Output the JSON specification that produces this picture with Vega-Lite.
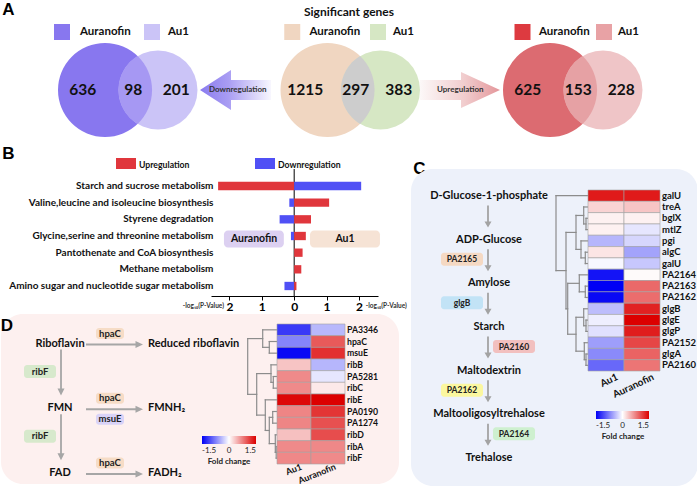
{
"$schema": "https://vega.github.io/schema/vega-lite/v6.json",
"padding": 0,
"background": "#ffffff",
"spacing": 0,
"bounds": "flush",
"resolve": {"scale": {"color": "independent"}, "legend": {"color": "independent"}},
"config": {
  "font": "Lato",
  "view": {"stroke": null},
  "text": {"font": "Lato", "fontWeight": "bold"},
  "axis": {"labelFont": "Lato", "titleFont": "Lato"},
  "legend": {"labelFont": "Lato", "titleFont": "Lato"}
},
"datasets": {
  "vennSets": [
    {"group": "Down", "set": "Auranofin"}, {"group": "Down", "set": "Au1"},
    {"group": "All", "set": "Auranofin"}, {"group": "All", "set": "Au1"},
    {"group": "Up", "set": "Auranofin"}, {"group": "Up", "set": "Au1"}
  ],
  "vennCounts": [
    {"group": "Down", "region": "Auranofin only", "count": 636},
    {"group": "Down", "region": "Both", "count": 98},
    {"group": "Down", "region": "Au1 only", "count": 201},
    {"group": "All", "region": "Auranofin only", "count": 1215},
    {"group": "All", "region": "Both", "count": 297},
    {"group": "All", "region": "Au1 only", "count": 383},
    {"group": "Up", "region": "Auranofin only", "count": 625},
    {"group": "Up", "region": "Both", "count": 153},
    {"group": "Up", "region": "Au1 only", "count": 228}
  ],
  "vennArrows": [
    {"group": "DownArrow", "label": "Downregulation"},
    {"group": "UpArrow", "label": "Upregulation"}
  ],
  "titleA": [{"group": "All", "label": "Significant genes"}],
  "regs": [{"regulation": "Upregulation"}, {"regulation": "Downregulation"}],
  "lettersA": [{"panel": "A"}],
  "letters": [{"panel": "B"}, {"panel": "C"}],
  "lettersD": [{"panel": "D"}],
  "pathways": [
    {"pathway": "Starch and sucrose metabolism", "side": "Auranofin", "regulation": "Upregulation", "value": -2.35},
    {"pathway": "Starch and sucrose metabolism", "side": "Au1", "regulation": "Downregulation", "value": 2.07},
    {"pathway": "Valine,leucine and isoleucine biosynthesis", "side": "Auranofin", "regulation": "Downregulation", "value": -0.15},
    {"pathway": "Valine,leucine and isoleucine biosynthesis", "side": "Au1", "regulation": "Upregulation", "value": 1.08},
    {"pathway": "Styrene degradation", "side": "Auranofin", "regulation": "Downregulation", "value": -0.45},
    {"pathway": "Styrene degradation", "side": "Au1", "regulation": "Upregulation", "value": 0.52},
    {"pathway": "Glycine,serine and threonine metabolism", "side": "Auranofin", "regulation": "Downregulation", "value": -0.1},
    {"pathway": "Glycine,serine and threonine metabolism", "side": "Au1", "regulation": "Upregulation", "value": 0.36},
    {"pathway": "Pantothenate and CoA biosynthesis", "side": "Au1", "regulation": "Upregulation", "value": 0.26},
    {"pathway": "Methane metabolism", "side": "Au1", "regulation": "Upregulation", "value": 0.22},
    {"pathway": "Amino sugar and nucleotide sugar metabolism", "side": "Auranofin", "regulation": "Downregulation", "value": -0.3},
    {"pathway": "Amino sugar and nucleotide sugar metabolism", "side": "Au1", "regulation": "Upregulation", "value": 0.07}
  ],
  "sides": [
    {"side": "Auranofin", "axisLabel": "-log₁₀(P-Value)"},
    {"side": "Au1", "axisLabel": "-log₁₀(P-Value)"}
  ],
  "cNodes": [
    {"step": 0, "label": "D-Glucose-1-phosphate"},
    {"step": 1, "label": "ADP-Glucose"},
    {"step": 2, "label": "Amylose"},
    {"step": 3, "label": "Starch"},
    {"step": 4, "label": "Maltodextrin"},
    {"step": 5, "label": "Maltooligosyltrehalose"},
    {"step": 6, "label": "Trehalose"}
  ],
  "cEnz": [
    {"enzyme": "PA2165", "step": 1, "col": "left"},
    {"enzyme": "glgB", "step": 2, "col": "left"},
    {"enzyme": "PA2160", "step": 3, "col": "right"},
    {"enzyme": "PA2162", "step": 4, "col": "left"},
    {"enzyme": "PA2164", "step": 5, "col": "right"}
  ],
  "heatC": [
    {"id": "galU-1", "gene": "galU", "condition": "Au1", "fc": 1.35}, {"id": "galU-1", "gene": "galU", "condition": "Auranofin", "fc": 1.35},
    {"id": "treA", "gene": "treA", "condition": "Au1", "fc": 0.26}, {"id": "treA", "gene": "treA", "condition": "Auranofin", "fc": 0.34},
    {"id": "bglX", "gene": "bglX", "condition": "Au1", "fc": 0.08}, {"id": "bglX", "gene": "bglX", "condition": "Auranofin", "fc": 0.08},
    {"id": "mtlZ", "gene": "mtlZ", "condition": "Au1", "fc": 0.08}, {"id": "mtlZ", "gene": "mtlZ", "condition": "Auranofin", "fc": -0.15},
    {"id": "pgi", "gene": "pgi", "condition": "Au1", "fc": -0.43}, {"id": "pgi", "gene": "pgi", "condition": "Auranofin", "fc": -0.24},
    {"id": "algC", "gene": "algC", "condition": "Au1", "fc": 0.15}, {"id": "algC", "gene": "algC", "condition": "Auranofin", "fc": -0.54},
    {"id": "galU-2", "gene": "galU", "condition": "Au1", "fc": -0.05}, {"id": "galU-2", "gene": "galU", "condition": "Auranofin", "fc": -0.33},
    {"id": "PA2164", "gene": "PA2164", "condition": "Au1", "fc": -1.38}, {"id": "PA2164", "gene": "PA2164", "condition": "Auranofin", "fc": 0.03},
    {"id": "PA2163", "gene": "PA2163", "condition": "Au1", "fc": -1.5}, {"id": "PA2163", "gene": "PA2163", "condition": "Auranofin", "fc": 0.88},
    {"id": "PA2162", "gene": "PA2162", "condition": "Au1", "fc": -1.45}, {"id": "PA2162", "gene": "PA2162", "condition": "Auranofin", "fc": 0.86},
    {"id": "glgB", "gene": "glgB", "condition": "Au1", "fc": -0.39}, {"id": "glgB", "gene": "glgB", "condition": "Auranofin", "fc": 1.3},
    {"id": "glgE", "gene": "glgE", "condition": "Au1", "fc": -0.1}, {"id": "glgE", "gene": "glgE", "condition": "Auranofin", "fc": 1.5},
    {"id": "glgP", "gene": "glgP", "condition": "Au1", "fc": -0.18}, {"id": "glgP", "gene": "glgP", "condition": "Auranofin", "fc": 1.33},
    {"id": "PA2152", "gene": "PA2152", "condition": "Au1", "fc": -0.57}, {"id": "PA2152", "gene": "PA2152", "condition": "Auranofin", "fc": 1.09},
    {"id": "glgA", "gene": "glgA", "condition": "Au1", "fc": -0.69}, {"id": "glgA", "gene": "glgA", "condition": "Auranofin", "fc": 0.92},
    {"id": "PA2160", "gene": "PA2160", "condition": "Au1", "fc": -0.89}, {"id": "PA2160", "gene": "PA2160", "condition": "Auranofin", "fc": 0.81}
  ],
  "dendroC": [
    {"h": 31.7, "ya": 0.5, "ha": 0, "yb": 7.125, "hb": 21.7},
    {"h": 21.7, "ya": 3.75, "ha": 11.7, "yb": 10.5, "hb": 20},
    {"h": 11.7, "ya": 2.25, "ha": 4, "yb": 5.25, "hb": 6.7},
    {"h": 4, "ya": 1.5, "ha": 0, "yb": 3, "hb": 1.7},
    {"h": 1.7, "ya": 2.5, "ha": 0, "yb": 3.5, "hb": 0},
    {"h": 6.7, "ya": 4.5, "ha": 0, "yb": 6, "hb": 2.4},
    {"h": 2.4, "ya": 5.5, "ha": 0, "yb": 6.5, "hb": 0},
    {"h": 20, "ya": 8.25, "ha": 8.4, "yb": 12.75, "hb": 11.7},
    {"h": 8.4, "ya": 7.5, "ha": 0, "yb": 9, "hb": 2.4},
    {"h": 2.4, "ya": 8.5, "ha": 0, "yb": 9.5, "hb": 0},
    {"h": 11.7, "ya": 11.25, "ha": 4, "yb": 14.25, "hb": 3.4},
    {"h": 4, "ya": 10.5, "ha": 0, "yb": 12, "hb": 1.7},
    {"h": 1.7, "ya": 11.5, "ha": 0, "yb": 12.5, "hb": 0},
    {"h": 3.4, "ya": 13.5, "ha": 0, "yb": 15, "hb": 1.7},
    {"h": 1.7, "ya": 14.5, "ha": 0, "yb": 15.5, "hb": 0}
  ],
  "dNodes": [
    {"label": "Riboflavin", "level": 0, "col": "compound"},
    {"label": "FMN", "level": 1, "col": "compound"},
    {"label": "FAD", "level": 2, "col": "compound"},
    {"label": "Reduced riboflavin", "level": 0, "col": "product"},
    {"label": "FMNH₂", "level": 1, "col": "product"},
    {"label": "FADH₂", "level": 2, "col": "product"}
  ],
  "dEnz": [
    {"enzyme": "hpaC", "level": 0, "col": "enzyme", "pos": "above"},
    {"enzyme": "hpaC", "level": 1, "col": "enzyme", "pos": "above"},
    {"enzyme": "msuE", "level": 1, "col": "enzyme", "pos": "below"},
    {"enzyme": "hpaC", "level": 2, "col": "enzyme", "pos": "above"},
    {"enzyme": "ribF", "level": 0, "col": "cofactor", "pos": "between"},
    {"enzyme": "ribF", "level": 1, "col": "cofactor", "pos": "between"}
  ],
  "heatD": [
    {"id": "PA3346", "gene": "PA3346", "condition": "Au1", "fc": -1.16}, {"id": "PA3346", "gene": "PA3346", "condition": "Auranofin", "fc": -0.42},
    {"id": "hpaC", "gene": "hpaC", "condition": "Au1", "fc": -0.72}, {"id": "hpaC", "gene": "hpaC", "condition": "Auranofin", "fc": 0.97},
    {"id": "msuE", "gene": "msuE", "condition": "Au1", "fc": -1.45}, {"id": "msuE", "gene": "msuE", "condition": "Auranofin", "fc": 1.22},
    {"id": "ribB", "gene": "ribB", "condition": "Au1", "fc": 0.35}, {"id": "ribB", "gene": "ribB", "condition": "Auranofin", "fc": -0.43},
    {"id": "PA5281", "gene": "PA5281", "condition": "Au1", "fc": 0.69}, {"id": "PA5281", "gene": "PA5281", "condition": "Auranofin", "fc": -0.15},
    {"id": "ribC", "gene": "ribC", "condition": "Au1", "fc": 0.69}, {"id": "ribC", "gene": "ribC", "condition": "Auranofin", "fc": 0.13},
    {"id": "ribE", "gene": "ribE", "condition": "Au1", "fc": 1.46}, {"id": "ribE", "gene": "ribE", "condition": "Auranofin", "fc": 1.5},
    {"id": "PA0190", "gene": "PA0190", "condition": "Au1", "fc": 0.72}, {"id": "PA0190", "gene": "PA0190", "condition": "Auranofin", "fc": 1.19},
    {"id": "PA1274", "gene": "PA1274", "condition": "Au1", "fc": 0.72}, {"id": "PA1274", "gene": "PA1274", "condition": "Auranofin", "fc": 1.03},
    {"id": "ribD", "gene": "ribD", "condition": "Au1", "fc": 0.37}, {"id": "ribD", "gene": "ribD", "condition": "Auranofin", "fc": 1.05},
    {"id": "ribA", "gene": "ribA", "condition": "Au1", "fc": 0.69}, {"id": "ribA", "gene": "ribA", "condition": "Auranofin", "fc": 0.7},
    {"id": "ribF", "gene": "ribF", "condition": "Au1", "fc": 0.7}, {"id": "ribF", "gene": "ribF", "condition": "Auranofin", "fc": 0.69}
  ],
  "dendroD": [
    {"h": 29.3, "ya": 1.25, "ha": 14.3, "yb": 6.03, "hb": 20.3},
    {"h": 14.3, "ya": 0.5, "ha": 0, "yb": 2, "hb": 7.7},
    {"h": 7.7, "ya": 1.5, "ha": 0, "yb": 2.5, "hb": 0},
    {"h": 20.3, "ya": 4.25, "ha": 6, "yb": 7.81, "hb": 11.7},
    {"h": 6, "ya": 3.5, "ha": 0, "yb": 5, "hb": 3.7},
    {"h": 3.7, "ya": 4.5, "ha": 0, "yb": 5.5, "hb": 0},
    {"h": 11.7, "ya": 6.5, "ha": 0, "yb": 9.125, "hb": 7.7},
    {"h": 7.7, "ya": 8, "ha": 4.3, "yb": 10.25, "hb": 1.7},
    {"h": 4.3, "ya": 7.5, "ha": 0, "yb": 8.5, "hb": 0},
    {"h": 1.7, "ya": 9.5, "ha": 0, "yb": 11, "hb": 0.8},
    {"h": 0.8, "ya": 10.5, "ha": 0, "yb": 11.5, "hb": 0}
  ]
},
"vconcat": [
  {
    "width": 697, "height": 168,
    "resolve": {"scale": {"x": "independent", "y": "independent", "color": "independent"}},
    "layer": [
      {"data": {"name": "vennArrows"}, "transform": [{"filter": "datum.group == 'DownArrow'"}],
       "mark": {"type": "point", "shape": "M-42.75,0L-11.75,-20L-11.75,-10L28.25,-10L28.25,10L-11.75,10L-11.75,20Z", "size": 4, "filled": true, "opacity": 1, "strokeWidth": 0,
         "fill": {"gradient": "linear", "x1": 0, "y1": 0, "x2": 1, "y2": 0, "stops": [{"offset": 0, "color": "#8a7bef"}, {"offset": 0.4, "color": "#a99df3"}, {"offset": 1, "color": "#f8f7fe"}]}},
       "encoding": {
         "x": {"field": "group", "type": "nominal", "scale": {"type": "point", "domain": ["Down", "DownArrow", "All", "UpArrow", "Up"], "range": [130.5, 575.5], "padding": 0}, "axis": null},
         "y": {"datum": "venn", "type": "nominal", "scale": {"type": "point", "domain": ["legend", "venn"], "range": [31, 89], "padding": 0}, "axis": null}}},
      {"data": {"name": "vennArrows"}, "transform": [{"filter": "datum.group == 'UpArrow'"}],
       "mark": {"type": "point", "shape": "M-45.25,-10L-4.25,-10L-4.25,-18L34.75,0L-4.25,18L-4.25,10L-45.25,10Z", "size": 4, "filled": true, "opacity": 1, "strokeWidth": 0,
         "fill": {"gradient": "linear", "x1": 0, "y1": 0, "x2": 1, "y2": 0, "stops": [{"offset": 0, "color": "#fcf8f8"}, {"offset": 0.55, "color": "#f1cdce"}, {"offset": 1, "color": "#e4979b"}]}},
       "encoding": {
         "x": {"field": "group", "type": "nominal", "scale": {"type": "point", "domain": ["Down", "DownArrow", "All", "UpArrow", "Up"], "range": [130.5, 575.5], "padding": 0}, "axis": null},
         "y": {"datum": "venn", "type": "nominal", "scale": {"type": "point", "domain": ["legend", "venn"], "range": [31, 89], "padding": 0}, "axis": null}}},
      {"data": {"name": "vennArrows"},
       "mark": {"type": "text", "fontSize": 8, "color": "#333333", "dx": -5},
       "encoding": {
         "x": {"field": "group", "type": "nominal", "scale": {"type": "point", "domain": ["Down", "DownArrow", "All", "UpArrow", "Up"], "range": [130.5, 575.5], "padding": 0}, "axis": null},
         "y": {"datum": "venn", "type": "nominal", "scale": {"type": "point", "domain": ["legend", "venn"], "range": [31, 89], "padding": 0}, "axis": null},
         "text": {"field": "label"}}},
      {"data": {"name": "vennSets"}, "transform": [{"filter": "datum.set == 'Auranofin'"}],
       "mark": {"type": "point", "shape": "circle", "size": 8836, "filled": true, "opacity": 1, "strokeWidth": 0, "xOffset": -26.5},
       "encoding": {
         "x": {"field": "group", "type": "nominal", "scale": {"type": "point", "domain": ["Down", "DownArrow", "All", "UpArrow", "Up"], "range": [130.5, 575.5], "padding": 0}, "axis": null},
         "y": {"datum": "venn", "type": "nominal", "scale": {"type": "point", "domain": ["legend", "venn"], "range": [31, 89], "padding": 0}, "axis": null},
         "color": {"field": "group", "type": "nominal", "scale": {"domain": ["Down", "All", "Up"], "range": ["#8877ef", "#f0d6c1", "#dc6b71"]}, "legend": null}}},
      {"data": {"name": "vennSets"}, "transform": [{"filter": "datum.set == 'Au1'"}],
       "mark": {"type": "point", "shape": "circle", "size": 6241, "filled": true, "opacity": 1, "strokeWidth": 0, "xOffset": 26.5},
       "encoding": {
         "x": {"field": "group", "type": "nominal", "scale": {"type": "point", "domain": ["Down", "DownArrow", "All", "UpArrow", "Up"], "range": [130.5, 575.5], "padding": 0}, "axis": null},
         "y": {"datum": "venn", "type": "nominal", "scale": {"type": "point", "domain": ["legend", "venn"], "range": [31, 89], "padding": 0}, "axis": null},
         "color": {"field": "group", "type": "nominal", "scale": {"domain": ["Down", "All", "Up"], "range": ["#cbc4f7", "#d6e7c4", "#efc5c7"]}, "legend": null}}},
      {"data": {"name": "vennSets"}, "transform": [{"filter": "datum.set == 'Auranofin'"}],
       "mark": {"type": "point", "shape": "M0,-33.9A39.5,39.5,0,0,0,0,33.9A47,47,0,0,0,0,-33.9Z", "size": 4, "filled": true, "opacity": 1, "strokeWidth": 0, "xOffset": 6.1},
       "encoding": {
         "x": {"field": "group", "type": "nominal", "scale": {"type": "point", "domain": ["Down", "DownArrow", "All", "UpArrow", "Up"], "range": [130.5, 575.5], "padding": 0}, "axis": null},
         "y": {"datum": "venn", "type": "nominal", "scale": {"type": "point", "domain": ["legend", "venn"], "range": [31, 89], "padding": 0}, "axis": null},
         "color": {"field": "group", "type": "nominal", "scale": {"domain": ["Down", "All", "Up"], "range": ["#a698f3", "#cdcdcd", "#e6a1a4"]}, "legend": null}}},
      {"data": {"name": "vennCounts"}, "transform": [{"filter": "datum.region == 'Auranofin only'"}],
       "mark": {"type": "text", "fontSize": 15.5, "color": "#111111", "dx": -48.7},
       "encoding": {
         "x": {"field": "group", "type": "nominal", "scale": {"type": "point", "domain": ["Down", "DownArrow", "All", "UpArrow", "Up"], "range": [130.5, 575.5], "padding": 0}, "axis": null},
         "y": {"datum": "venn", "type": "nominal", "scale": {"type": "point", "domain": ["legend", "venn"], "range": [31, 89], "padding": 0}, "axis": null},
         "text": {"field": "count"}}},
      {"data": {"name": "vennCounts"}, "transform": [{"filter": "datum.region == 'Both'"}],
       "mark": {"type": "text", "fontSize": 15.5, "color": "#111111", "dx": 1.7},
       "encoding": {
         "x": {"field": "group", "type": "nominal", "scale": {"type": "point", "domain": ["Down", "DownArrow", "All", "UpArrow", "Up"], "range": [130.5, 575.5], "padding": 0}, "axis": null},
         "y": {"datum": "venn", "type": "nominal", "scale": {"type": "point", "domain": ["legend", "venn"], "range": [31, 89], "padding": 0}, "axis": null},
         "text": {"field": "count"}}},
      {"data": {"name": "vennCounts"}, "transform": [{"filter": "datum.region == 'Au1 only'"}],
       "mark": {"type": "text", "fontSize": 15.5, "color": "#111111", "dx": 44.7},
       "encoding": {
         "x": {"field": "group", "type": "nominal", "scale": {"type": "point", "domain": ["Down", "DownArrow", "All", "UpArrow", "Up"], "range": [130.5, 575.5], "padding": 0}, "axis": null},
         "y": {"datum": "venn", "type": "nominal", "scale": {"type": "point", "domain": ["legend", "venn"], "range": [31, 89], "padding": 0}, "axis": null},
         "text": {"field": "count"}}},
      {"data": {"name": "vennSets"}, "transform": [{"filter": "datum.set == 'Auranofin'"}],
       "mark": {"type": "point", "shape": "square", "size": 256, "filled": true, "opacity": 1, "strokeWidth": 0},
       "encoding": {
         "x": {"field": "group", "type": "nominal", "scale": {"type": "point", "domain": ["Down", "All", "Up"], "range": [61, 521.5], "padding": 0}, "axis": null},
         "y": {"datum": "legend", "type": "nominal", "scale": {"type": "point", "domain": ["legend", "venn"], "range": [31, 89], "padding": 0}, "axis": null},
         "color": {"field": "group", "type": "nominal", "scale": {"domain": ["Down", "All", "Up"], "range": ["#8877ef", "#f0d6c1", "#dd3a40"]}, "legend": null}}},
      {"data": {"name": "vennSets"}, "transform": [{"filter": "datum.set == 'Au1'"}],
       "mark": {"type": "point", "shape": "square", "size": 256, "filled": true, "opacity": 1, "strokeWidth": 0},
       "encoding": {
         "x": {"field": "group", "type": "nominal", "scale": {"type": "point", "domain": ["Down", "All", "Up"], "range": [151, 603], "padding": 0}, "axis": null},
         "y": {"datum": "legend", "type": "nominal", "scale": {"type": "point", "domain": ["legend", "venn"], "range": [31, 89], "padding": 0}, "axis": null},
         "color": {"field": "group", "type": "nominal", "scale": {"domain": ["Down", "All", "Up"], "range": ["#cbc4f7", "#d6e7c4", "#e8a2a5"]}, "legend": null}}},
      {"data": {"name": "vennSets"}, "transform": [{"filter": "datum.set == 'Auranofin'"}],
       "mark": {"type": "text", "fontSize": 11.5, "align": "left", "color": "#111111"},
       "encoding": {
         "x": {"field": "group", "type": "nominal", "scale": {"type": "point", "domain": ["Down", "All", "Up"], "range": [79, 538], "padding": 0}, "axis": null},
         "y": {"datum": "legend", "type": "nominal", "scale": {"type": "point", "domain": ["legend", "venn"], "range": [31, 89], "padding": 0}, "axis": null},
         "text": {"field": "set"}}},
      {"data": {"name": "vennSets"}, "transform": [{"filter": "datum.set == 'Au1'"}],
       "mark": {"type": "text", "fontSize": 11.5, "align": "left", "color": "#111111"},
       "encoding": {
         "x": {"field": "group", "type": "nominal", "scale": {"type": "point", "domain": ["Down", "All", "Up"], "range": [167, 617], "padding": 0}, "axis": null},
         "y": {"datum": "legend", "type": "nominal", "scale": {"type": "point", "domain": ["legend", "venn"], "range": [31, 89], "padding": 0}, "axis": null},
         "text": {"field": "set"}}},
      {"data": {"name": "titleA"},
       "mark": {"type": "text", "fontSize": 12, "color": "#111111", "dx": -5, "dy": -20},
       "encoding": {
         "x": {"field": "group", "type": "nominal", "scale": {"type": "point", "domain": ["Down", "DownArrow", "All", "UpArrow", "Up"], "range": [130.5, 575.5], "padding": 0}, "axis": null},
         "y": {"datum": "legend", "type": "nominal", "scale": {"type": "point", "domain": ["legend", "venn"], "range": [31, 89], "padding": 0}, "axis": null},
         "text": {"field": "label"}}},
      {"data": {"name": "regs"},
       "mark": {"type": "point", "shape": "M-10,-5.5H10V5.5H-10Z", "size": 4, "filled": true, "opacity": 1, "strokeWidth": 0},
       "encoding": {
         "x": {"field": "regulation", "type": "nominal", "scale": {"type": "point", "domain": ["Upregulation", "Downregulation"], "range": [125, 264], "padding": 0}, "axis": null},
         "y": {"field": "regulation", "type": "nominal", "scale": {"type": "point", "domain": ["Upregulation", "Downregulation"], "range": [162.5, 162.5], "padding": 0}, "axis": null},
         "color": {"field": "regulation", "type": "nominal", "scale": {"domain": ["Upregulation", "Downregulation"], "range": ["#e0363c", "#5050f5"]}, "legend": null}}},
      {"data": {"name": "regs"},
       "mark": {"type": "text", "fontSize": 8.7, "align": "left", "color": "#111111", "dy": 1.5},
       "encoding": {
         "x": {"field": "regulation", "type": "nominal", "scale": {"type": "point", "domain": ["Upregulation", "Downregulation"], "range": [138, 277], "padding": 0}, "axis": null},
         "y": {"field": "regulation", "type": "nominal", "scale": {"type": "point", "domain": ["Upregulation", "Downregulation"], "range": [162.5, 162.5], "padding": 0}, "axis": null},
         "text": {"field": "regulation"}}},
      {"data": {"name": "lettersA"},
       "mark": {"type": "text", "font": "Liberation Sans", "fontSize": 17, "color": "#000000"},
       "encoding": {
         "x": {"field": "panel", "type": "nominal", "scale": {"type": "point", "domain": ["A"], "range": [7.5, 7.5], "padding": 0}, "axis": null},
         "y": {"field": "panel", "type": "nominal", "scale": {"type": "point", "domain": ["A"], "range": [8.5, 8.5], "padding": 0}, "axis": null},
         "text": {"field": "panel"}}},
      {"data": {"name": "letters"},
       "mark": {"type": "text", "font": "Liberation Sans", "fontSize": 17, "color": "#000000"},
       "encoding": {
         "x": {"field": "panel", "type": "nominal", "scale": {"type": "point", "domain": ["B", "C"], "range": [7.5, 418.5], "padding": 0}, "axis": null},
         "y": {"field": "panel", "type": "nominal", "scale": {"type": "point", "domain": ["B", "C"], "range": [152.5, 167.5], "padding": 0}, "axis": null},
         "text": {"field": "panel"}}}
    ]
  },
  {
    "hconcat": [
      {
        "vconcat": [
          {
            "width": 410, "height": 127,
            "layer": [
              {"data": {"name": "sides"}, "transform": [{"filter": "datum.side == 'Auranofin'"}],
               "mark": {"type": "bar", "height": 17, "cornerRadius": 4, "color": "#dcd0f1", "yOffset": 3},
               "encoding": {"x": {"datum": -2.17, "type": "quantitative"}, "x2": {"datum": -0.32}, "y": {"datum": "Glycine,serine and threonine metabolism", "type": "nominal"}}},
              {"data": {"name": "sides"}, "transform": [{"filter": "datum.side == 'Au1'"}],
               "mark": {"type": "bar", "height": 17, "cornerRadius": 4, "color": "#f6e3d5", "yOffset": 3},
               "encoding": {"x": {"datum": 0.49, "type": "quantitative"}, "x2": {"datum": 2.65}, "y": {"datum": "Glycine,serine and threonine metabolism", "type": "nominal"}}},
              {"data": {"name": "sides"}, "transform": [{"filter": "datum.side == 'Auranofin'"}],
               "mark": {"type": "text", "fontSize": 10.5, "color": "#111111", "yOffset": 3},
               "encoding": {"x": {"datum": -1.24, "type": "quantitative"}, "y": {"datum": "Glycine,serine and threonine metabolism", "type": "nominal"}, "text": {"field": "side"}}},
              {"data": {"name": "sides"}, "transform": [{"filter": "datum.side == 'Au1'"}],
               "mark": {"type": "text", "fontSize": 10.5, "color": "#111111", "yOffset": 3},
               "encoding": {"x": {"datum": 1.57, "type": "quantitative"}, "y": {"datum": "Glycine,serine and threonine metabolism", "type": "nominal"}, "text": {"field": "side"}}},
              {"data": {"name": "sides"}, "transform": [{"filter": "datum.side == 'Auranofin'"}],
               "mark": {"type": "rule", "color": "#000000", "strokeWidth": 1},
               "encoding": {"x": {"datum": 0, "type": "quantitative"}}},
              {"data": {"name": "pathways"},
               "mark": {"type": "bar"},
               "encoding": {
                 "x": {"field": "value", "type": "quantitative", "stack": null,
                   "scale": {"domain": [-2.57, 2.59], "range": [210, 377], "nice": false, "zero": false},
                   "axis": {"values": [-2, -1, 0, 1, 2], "labelExpr": "abs(datum.value)", "title": null, "grid": false, "domainColor": "#000000", "tickColor": "#000000", "tickSize": 4, "labelFontSize": 12, "labelFontWeight": "bold", "labelColor": "#000000", "labelPadding": 1, "labelFlush": false}},
                 "y": {"field": "pathway", "type": "nominal",
                   "scale": {"type": "band", "domain": ["Starch and sucrose metabolism", "Valine,leucine and isoleucine biosynthesis", "Styrene degradation", "Glycine,serine and threonine metabolism", "Pantothenate and CoA biosynthesis", "Methane metabolism", "Amino sugar and nucleotide sugar metabolism"], "range": [8.67, 125.33], "paddingInner": 0.5, "paddingOuter": 0.25},
                   "axis": {"orient": "left", "offset": -212, "domain": false, "ticks": false, "labelPadding": 0, "title": null, "labelFontSize": 10, "labelFontWeight": "bold", "labelColor": "#111111", "labelLimit": 300}},
                 "color": {"field": "regulation", "type": "nominal",
                   "scale": {"domain": ["Upregulation", "Downregulation"], "range": ["#e0363c", "#5050f5"]},
                   "legend": null}}},
              {"data": {"name": "sides"}, "transform": [{"filter": "datum.side == 'Auranofin'"}],
               "mark": {"type": "text", "align": "right", "y": "height", "dy": 10, "fontSize": 6.5, "color": "#333333"},
               "encoding": {"x": {"datum": -2.17, "type": "quantitative"}, "text": {"field": "axisLabel"}}},
              {"data": {"name": "sides"}, "transform": [{"filter": "datum.side == 'Au1'"}],
               "mark": {"type": "text", "align": "left", "y": "height", "dy": 10, "fontSize": 6.5, "color": "#333333"},
               "encoding": {"x": {"datum": 2.21, "type": "quantitative"}, "text": {"field": "axisLabel"}}}
            ]
          },
          {
            "width": 398, "height": 170,
            "view": {"fill": "#fdf0ef", "cornerRadius": 22, "stroke": null},
            "resolve": {"scale": {"x": "independent", "y": "independent", "color": "independent"}, "legend": {"color": "independent"}},
            "layer": [
              {
                "layer": [
                  {"data": {"name": "dNodes"}, "transform": [{"filter": "datum.col == 'compound' && datum.level < 2"}],
                   "mark": {"type": "point", "shape": "M-0.9,-23H0.9V16H3.5L0,23L-3.5,16H-0.9Z", "size": 4, "filled": true, "opacity": 1, "strokeWidth": 0, "color": "#a6a6a6", "xOffset": -15, "yOffset": 29},
                   "encoding": {
                     "x": {"field": "col", "type": "nominal", "scale": {"type": "point", "domain": ["cofactor", "compound", "enzyme", "product"], "range": [39, 147], "padding": 0}, "axis": null},
                     "y": {"field": "level", "type": "quantitative", "scale": {"domain": [0, 2], "range": [29.5, 159], "nice": false, "zero": false}, "axis": null}}},
                  {"data": {"name": "dNodes"}, "transform": [{"filter": "datum.col == 'compound'"}],
                   "mark": {"type": "point", "shape": "M-28.5,-0.9H21V-3.5L28.5,0L21,3.5V0.9H-28.5Z", "size": 4, "filled": true, "opacity": 1, "strokeWidth": 0, "color": "#a6a6a6", "xOffset": 2.5, "yOffset": 1},
                   "encoding": {
                     "x": {"datum": "enzyme", "type": "nominal"},
                     "y": {"field": "level", "type": "quantitative"}}},
                  {"data": {"name": "dNodes"}, "transform": [{"filter": "datum.col == 'compound'"}],
                   "mark": {"type": "text", "fontSize": 11, "color": "#111111", "dx": -16},
                   "encoding": {"x": {"field": "col", "type": "nominal"}, "y": {"field": "level", "type": "quantitative"}, "text": {"field": "label"}}},
                  {"data": {"name": "dNodes"}, "transform": [{"filter": "datum.col == 'product'"}],
                   "mark": {"type": "text", "fontSize": 11, "color": "#111111", "align": "left"},
                   "encoding": {"x": {"field": "col", "type": "nominal"}, "y": {"field": "level", "type": "quantitative"}, "text": {"field": "label"}}},
                  {"data": {"name": "dEnz"}, "transform": [{"filter": "datum.pos == 'above'"}],
                   "mark": {"type": "point", "shape": "M-11,-5.5H11A3,3,0,0,1,14,-2.5V2.5A3,3,0,0,1,11,5.5H-11A3,3,0,0,1,-14,2.5V-2.5A3,3,0,0,1,-11,-5.5Z", "size": 4, "filled": true, "opacity": 1, "strokeWidth": 0, "xOffset": -2, "yOffset": -10},
                   "encoding": {"x": {"field": "col", "type": "nominal"}, "y": {"field": "level", "type": "quantitative"},
                     "color": {"field": "enzyme", "type": "nominal", "scale": {"domain": ["hpaC", "msuE", "ribF"], "range": ["#f6dcc6", "#d9d3f8", "#d7e9cc"]}, "legend": null}}},
                  {"data": {"name": "dEnz"}, "transform": [{"filter": "datum.pos == 'below'"}],
                   "mark": {"type": "point", "shape": "M-11,-5.5H11A3,3,0,0,1,14,-2.5V2.5A3,3,0,0,1,11,5.5H-11A3,3,0,0,1,-14,2.5V-2.5A3,3,0,0,1,-11,-5.5Z", "size": 4, "filled": true, "opacity": 1, "strokeWidth": 0, "xOffset": -2, "yOffset": 11},
                   "encoding": {"x": {"field": "col", "type": "nominal"}, "y": {"field": "level", "type": "quantitative"},
                     "color": {"field": "enzyme", "type": "nominal", "legend": null}}},
                  {"data": {"name": "dEnz"}, "transform": [{"filter": "datum.pos == 'between'"}],
                   "mark": {"type": "point", "shape": "M-13,-6.5H13A3,3,0,0,1,16,-3.5V3.5A3,3,0,0,1,13,6.5H-13A3,3,0,0,1,-16,3.5V-3.5A3,3,0,0,1,-13,-6.5Z", "size": 4, "filled": true, "opacity": 1, "strokeWidth": 0, "yOffset": 28},
                   "encoding": {"x": {"field": "col", "type": "nominal"}, "y": {"field": "level", "type": "quantitative"},
                     "color": {"field": "enzyme", "type": "nominal", "legend": null}}},
                  {"data": {"name": "dEnz"}, "transform": [{"filter": "datum.pos == 'above'"}],
                   "mark": {"type": "text", "fontSize": 9.5, "color": "#222222", "xOffset": -2, "yOffset": -10},
                   "encoding": {"x": {"field": "col", "type": "nominal"}, "y": {"field": "level", "type": "quantitative"}, "text": {"field": "enzyme"}}},
                  {"data": {"name": "dEnz"}, "transform": [{"filter": "datum.pos == 'below'"}],
                   "mark": {"type": "text", "fontSize": 9.5, "color": "#222222", "xOffset": -2, "yOffset": 11},
                   "encoding": {"x": {"field": "col", "type": "nominal"}, "y": {"field": "level", "type": "quantitative"}, "text": {"field": "enzyme"}}},
                  {"data": {"name": "dEnz"}, "transform": [{"filter": "datum.pos == 'between'"}],
                   "mark": {"type": "text", "fontSize": 9.5, "color": "#222222", "yOffset": 28},
                   "encoding": {"x": {"field": "col", "type": "nominal"}, "y": {"field": "level", "type": "quantitative"}, "text": {"field": "enzyme"}}},
                  {"data": {"name": "lettersD"},
                   "mark": {"type": "text", "font": "Liberation Sans", "fontSize": 17, "color": "#000000", "dx": -33, "dy": -18},
                   "encoding": {"x": {"datum": "cofactor", "type": "nominal"}, "y": {"datum": 0, "type": "quantitative"}, "text": {"field": "panel"}}}
                ]
              },
              {
                "data": {"name": "dendroD"},
                "layer": [
                  {"mark": {"type": "rule", "color": "#8c8c8c", "strokeWidth": 1.2, "strokeCap": "square"},
                   "encoding": {
                     "x": {"field": "h", "type": "quantitative", "scale": {"domain": [0, 29.3], "range": [276, 246.7], "nice": false, "zero": false}, "axis": null},
                     "y": {"field": "ya", "type": "quantitative", "scale": {"domain": [0, 12], "range": [10, 150], "nice": false, "zero": false}, "axis": null},
                     "y2": {"field": "yb"}}},
                  {"mark": {"type": "rule", "color": "#8c8c8c", "strokeWidth": 1.2, "strokeCap": "square"},
                   "encoding": {"x": {"field": "ha", "type": "quantitative"}, "x2": {"field": "h"}, "y": {"field": "ya", "type": "quantitative"}}},
                  {"mark": {"type": "rule", "color": "#8c8c8c", "strokeWidth": 1.2, "strokeCap": "square"},
                   "encoding": {"x": {"field": "hb", "type": "quantitative"}, "x2": {"field": "h"}, "y": {"field": "yb", "type": "quantitative"}}}
                ]
              },
              {
                "data": {"name": "heatD"},
                "layer": [
                  {"mark": {"type": "rect", "stroke": "#a3a3a3", "strokeWidth": 0.6},
                   "encoding": {
                     "x": {"field": "condition", "type": "nominal", "scale": {"type": "band", "domain": ["Au1", "Auranofin"], "range": [276, 344], "paddingInner": 0, "paddingOuter": 0}, "axis": null},
                     "y": {"field": "id", "type": "nominal", "scale": {"type": "band", "domain": ["PA3346", "hpaC", "msuE", "ribB", "PA5281", "ribC", "ribE", "PA0190", "PA1274", "ribD", "ribA", "ribF"], "range": [10, 150], "paddingInner": 0, "paddingOuter": 0}, "axis": null},
                     "color": {"field": "fc", "type": "quantitative",
                       "scale": {"domain": [-1.5, 0, 1.5], "range": ["#0000f5", "#ffffff", "#dc0000"], "clamp": true, "interpolate": "rgb"},
                       "legend": {"orient": "none", "legendX": 201, "legendY": 122, "direction": "horizontal", "gradientLength": 54, "gradientThickness": 8, "title": "Fold change", "titleOrient": "bottom", "titleAnchor": "middle", "titleFontSize": 8, "titleFontWeight": "bold", "titleColor": "#222222", "titlePadding": 3, "values": [-1.5, 0, 1.5], "labelFontSize": 8, "labelColor": "#222222", "labelOffset": 3, "labelAlign": "center", "labelOverlap": false, "labelExpr": "datum.value < 0 ? '-' + format(-datum.value, '.1f') : (datum.value == 0 ? '0' : format(datum.value, '.1f'))", "gradientStrokeWidth": 0, "padding": 0}}}},
                  {"transform": [{"filter": "datum.condition == 'Auranofin'"}],
                   "mark": {"type": "text", "align": "left", "dx": 2, "fontSize": 8.7, "color": "#111111"},
                   "encoding": {"x": {"field": "condition", "type": "nominal", "bandPosition": 1}, "y": {"field": "id", "type": "nominal"}, "text": {"field": "gene"}}},
                  {"transform": [{"filter": "datum.id == 'ribF'"}],
                   "mark": {"type": "text", "align": "right", "baseline": "top", "angle": 338, "dx": 6, "dy": 1, "fontSize": 9, "color": "#111111"},
                   "encoding": {"x": {"field": "condition", "type": "nominal"}, "y": {"field": "id", "type": "nominal", "bandPosition": 1}, "text": {"field": "condition"}}}
                ]
              }
            ]
          }
        ],
        "spacing": 18,
        "bounds": "flush",
        "resolve": {"scale": {"color": "independent"}, "legend": {"color": "independent"}}
      },
      {
        "width": 287, "height": 317,
        "view": {"fill": "#edf1fa", "cornerRadius": 22, "stroke": null},
        "resolve": {"scale": {"x": "independent", "y": "independent", "color": "independent"}, "legend": {"color": "independent"}},
        "layer": [
          {
            "layer": [
              {"data": {"name": "cNodes"}, "transform": [{"filter": "datum.step < 6"}],
               "mark": {"type": "point", "shape": "M-0.9,-11H0.9V5H3.5L0,11L-3.5,5H-0.9Z", "size": 4, "filled": true, "opacity": 1, "strokeWidth": 0, "color": "#a3a3a3", "yOffset": 20.5},
               "encoding": {
                 "x": {"datum": "center", "type": "nominal", "scale": {"type": "point", "domain": ["left", "center", "right"], "range": [51, 103], "padding": 0}, "axis": null},
                 "y": {"field": "step", "type": "quantitative", "scale": {"domain": [0, 6], "range": [27, 289], "nice": false, "zero": false}, "axis": null}}},
              {"data": {"name": "cNodes"},
               "mark": {"type": "text", "fontSize": 11, "color": "#111111", "dx": 1},
               "encoding": {"x": {"datum": "center", "type": "nominal"}, "y": {"field": "step", "type": "quantitative"}, "text": {"field": "label"}}},
              {"data": {"name": "cEnz"},
               "mark": {"type": "point", "shape": "M-18,-6.5H18A3,3,0,0,1,21,-3.5V3.5A3,3,0,0,1,18,6.5H-18A3,3,0,0,1,-21,3.5V-3.5A3,3,0,0,1,-18,-6.5Z", "size": 4, "filled": true, "opacity": 1, "strokeWidth": 0, "yOffset": 19.5},
               "encoding": {"x": {"field": "col", "type": "nominal"}, "y": {"field": "step", "type": "quantitative"},
                 "color": {"field": "enzyme", "type": "nominal", "scale": {"domain": ["PA2165", "glgB", "PA2160", "PA2162", "PA2164"], "range": ["#f5d9c3", "#c2e3f6", "#f2c0bf", "#fbf79f", "#cef0cf"]}, "legend": null}}},
              {"data": {"name": "cEnz"},
               "mark": {"type": "text", "fontSize": 8.5, "color": "#222222", "yOffset": 19.5},
               "encoding": {"x": {"field": "col", "type": "nominal"}, "y": {"field": "step", "type": "quantitative"}, "text": {"field": "enzyme"}}}
            ]
          },
          {
            "data": {"name": "dendroC"},
            "layer": [
              {"mark": {"type": "rule", "color": "#8c8c8c", "strokeWidth": 1.2, "strokeCap": "square"},
               "encoding": {
                 "x": {"field": "h", "type": "quantitative", "scale": {"domain": [0, 31.7], "range": [176.7, 145], "nice": false, "zero": false}, "axis": null},
                 "y": {"field": "ya", "type": "quantitative", "scale": {"domain": [0, 16], "range": [21, 202], "nice": false, "zero": false}, "axis": null},
                 "y2": {"field": "yb"}}},
              {"mark": {"type": "rule", "color": "#8c8c8c", "strokeWidth": 1.2, "strokeCap": "square"},
               "encoding": {"x": {"field": "ha", "type": "quantitative"}, "x2": {"field": "h"}, "y": {"field": "ya", "type": "quantitative"}}},
              {"mark": {"type": "rule", "color": "#8c8c8c", "strokeWidth": 1.2, "strokeCap": "square"},
               "encoding": {"x": {"field": "hb", "type": "quantitative"}, "x2": {"field": "h"}, "y": {"field": "yb", "type": "quantitative"}}}
            ]
          },
          {
            "data": {"name": "heatC"},
            "layer": [
              {"mark": {"type": "rect", "stroke": "#a3a3a3", "strokeWidth": 0.6},
               "encoding": {
                 "x": {"field": "condition", "type": "nominal", "scale": {"type": "band", "domain": ["Au1", "Auranofin"], "range": [177, 249], "paddingInner": 0, "paddingOuter": 0}, "axis": null},
                 "y": {"field": "id", "type": "nominal", "scale": {"type": "band", "domain": ["galU-1", "treA", "bglX", "mtlZ", "pgi", "algC", "galU-2", "PA2164", "PA2163", "PA2162", "glgB", "glgE", "glgP", "PA2152", "glgA", "PA2160"], "range": [21, 202], "paddingInner": 0, "paddingOuter": 0}, "axis": null},
                 "color": {"field": "fc", "type": "quantitative",
                   "scale": {"domain": [-1.5, 0, 1.5], "range": ["#0000f5", "#ffffff", "#dc0000"], "clamp": true, "interpolate": "rgb"},
                   "legend": {"orient": "none", "legendX": 185, "legendY": 242, "direction": "horizontal", "gradientLength": 53, "gradientThickness": 8, "title": "Fold change", "titleOrient": "bottom", "titleAnchor": "middle", "titleFontSize": 8, "titleFontWeight": "bold", "titleColor": "#222222", "titlePadding": 3, "values": [-1.5, 0, 1.5], "labelFontSize": 8, "labelColor": "#222222", "labelOffset": 3, "labelAlign": "center", "labelOverlap": false, "labelExpr": "datum.value < 0 ? '-' + format(-datum.value, '.1f') : (datum.value == 0 ? '0' : format(datum.value, '.1f'))", "gradientStrokeWidth": 0, "padding": 0}}}},
              {"transform": [{"filter": "datum.condition == 'Auranofin'"}],
               "mark": {"type": "text", "align": "left", "dx": 2, "fontSize": 9.5, "color": "#111111"},
               "encoding": {"x": {"field": "condition", "type": "nominal", "bandPosition": 1}, "y": {"field": "id", "type": "nominal"}, "text": {"field": "gene"}}},
              {"transform": [{"filter": "datum.id == 'PA2160'"}],
               "mark": {"type": "text", "align": "right", "baseline": "top", "angle": 335, "dx": 8, "dy": 5, "fontSize": 10, "color": "#111111"},
               "encoding": {"x": {"field": "condition", "type": "nominal"}, "y": {"field": "id", "type": "nominal", "bandPosition": 1}, "text": {"field": "condition"}}}
            ]
          }
        ]
      }
    ],
    "spacing": 0,
    "bounds": "full",
    "resolve": {"scale": {"color": "independent"}, "legend": {"color": "independent"}}
  }
]
}
